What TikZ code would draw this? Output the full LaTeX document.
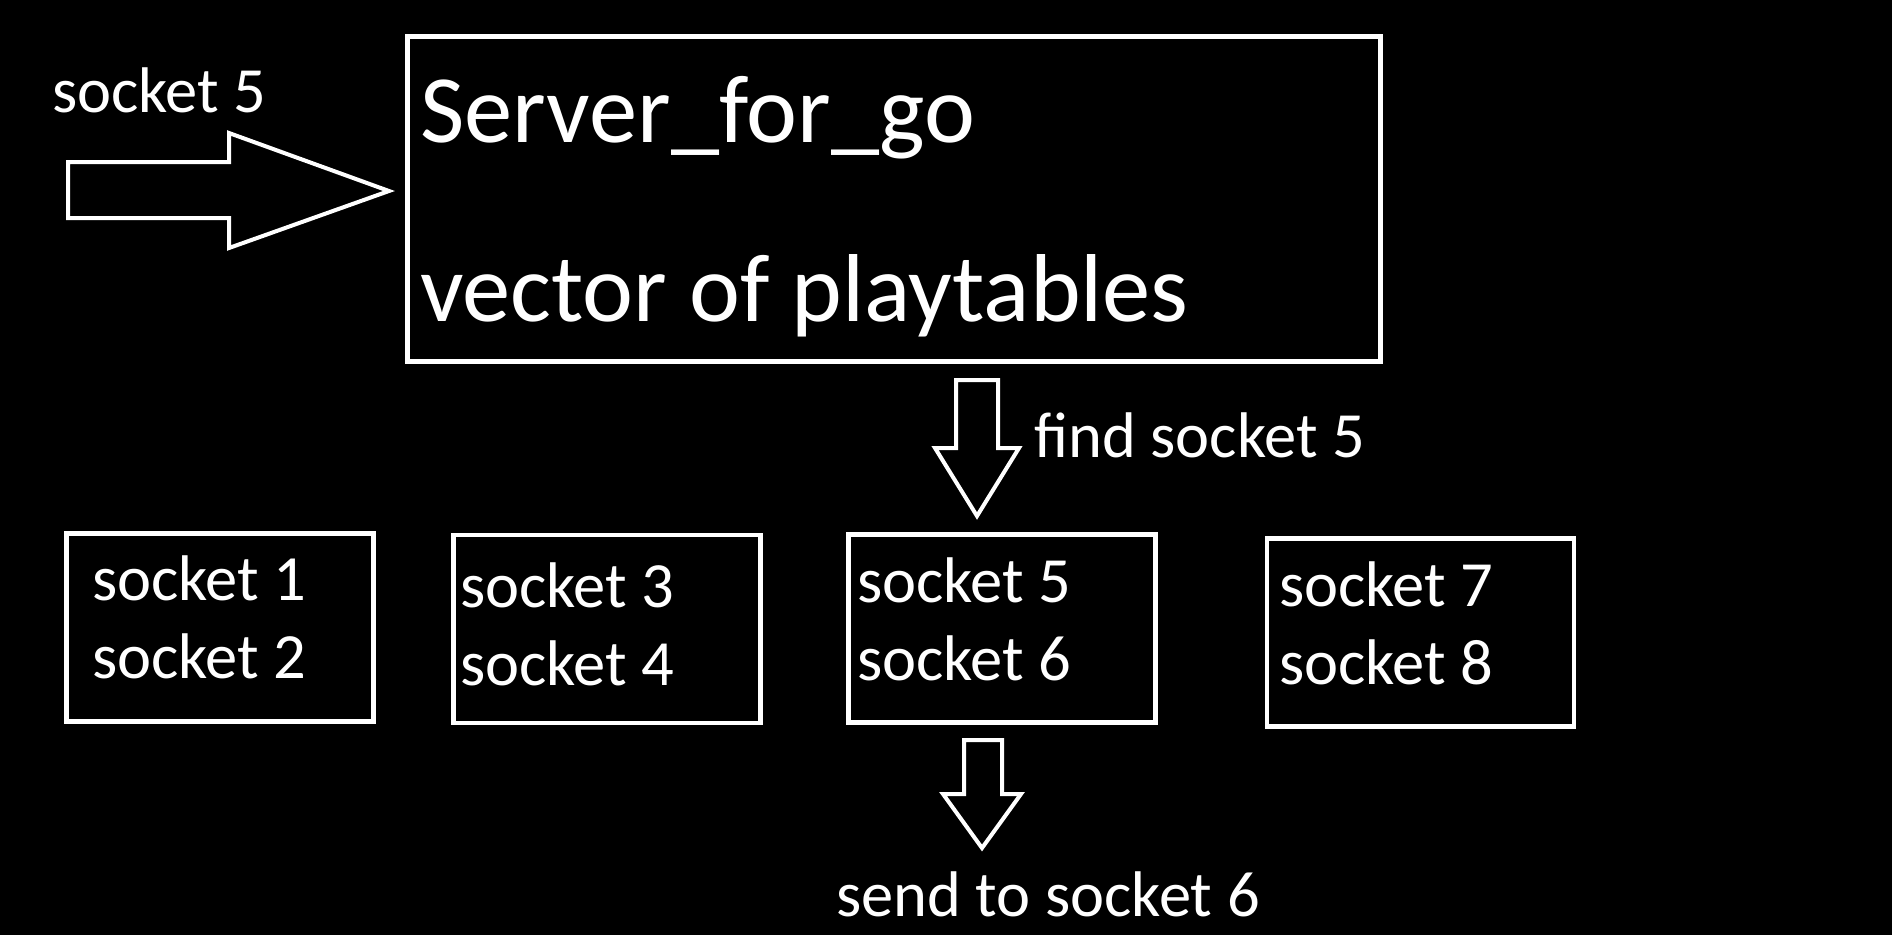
\documentclass[tikz,border=0pt]{standalone}
\usepackage{fontspec}
\setmainfont{Carlito}
\usetikzlibrary{positioning}

\begin{document}
\begin{tikzpicture}[
    x=1pt, y=-1pt,
    base/.style = {rectangle, draw=white, line width=4.5pt, text=white,
align=flush left, inner sep=0pt},
    server/.style = {base, minimum width=973pt, minimum height=325pt,
text height=70pt, text depth=184pt,
font=\fontsize{96.5}{179}\selectfont},
    table/.style = {base, minimum width=307pt, minimum height=188pt,
text height=40pt, text depth=92pt,
font=\fontsize{64.5}{78}\selectfont},
    label/.style = {text=white, inner sep=0pt, anchor=base west,
font=\fontsize{64.5}{74}\selectfont},
    blockarrow/.style = {draw=white, line width=4pt, line join=miter}
]
  \fill[black] (0,0) rectangle (1892,935);
  \useasboundingbox (0,0) rectangle (1892,935);

  \node (srv) [server, text width=948pt] at (894,199) {Server\_for\_go\\vector of playtables};

  \node (t12) [table, text width=256pt, text depth=95pt] at (220,627.5) {socket 1\\socket 2};
  \node (t34) [table, text width=294pt, text depth=84pt] at (607,629) {socket 3\\socket 4};
  \node (t56) [table, text width=290pt] at (1002,628.5) {socket 5\\socket 6};
  \node (t78) [table, text width=283pt] at (1420.5,632.5) {socket 7\\socket 8};

  \node (in)   [label] at (52,112) {socket 5};
  \node (find) [label] at (1034,457) {find socket 5};
  \node (send) [label] at (836,916) {send to socket 6};

  % incoming request
  \draw[blockarrow] (68,162) -- (229,162) -- (229,133) -- (389,191)
      -- (229,248) -- (229,218) -- (68,218) -- cycle;
  % lookup in the vector
  \draw[blockarrow] (956,380) -- (998,380) -- (998,448) -- (1019,448)
      -- (977,516) -- (935,448) -- (956,448) -- cycle;
  % reply
  \draw[blockarrow] (964,740) -- (1002,740) -- (1002,794) -- (1021,794)
      -- (982,848) -- (943,794) -- (964,794) -- cycle;

\end{tikzpicture}
\end{document}
